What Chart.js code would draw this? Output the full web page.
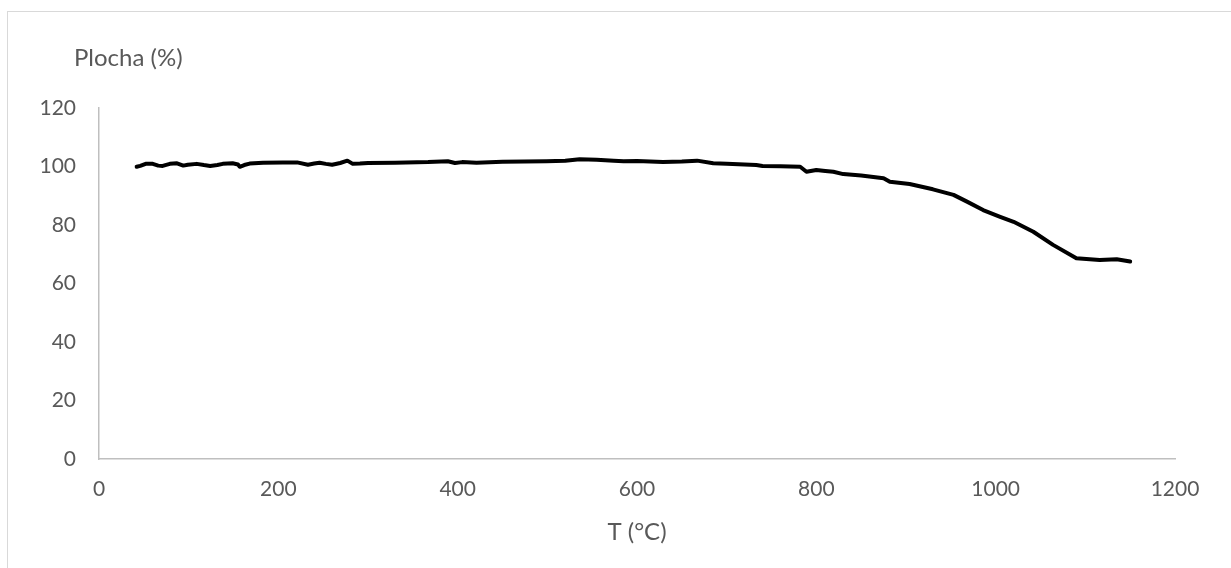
<!DOCTYPE html>
<html>
<head>
<meta charset="utf-8">
<script src="https://cdn.jsdelivr.net/npm/chart.js"></script>
<style>
  body { margin: 0; background: #fff; overflow: hidden; }
  #frame {
    position: absolute; left: 7px; top: 11px;
    width: 1400px; height: 800px;
    border: 1px solid #d9d9d9; box-sizing: border-box;
  }
  #wrap { position: absolute; left: 0; top: 0; width: 1231px; height: 568px; }
</style>
</head>
<body>
<div id="frame"></div>
<div id="wrap"><canvas id="plochaChart" width="1231" height="568"></canvas></div>
<script>
  // teplota (°C)
  const teplota = [
    42, 46, 52, 60, 66, 71, 79, 87, 94, 99, 109, 117, 124, 132, 138, 149, 155, 157, 162, 168,
    183, 205, 221, 233, 240, 246, 253, 260, 269, 277, 283, 291, 300, 330, 367, 389, 397, 405,
    421, 450, 499, 520, 536, 555, 574, 585, 600, 629, 650, 667, 685, 700, 733, 740, 760, 782,
    789, 800, 810, 819, 830, 850, 875, 882, 904, 930, 953, 968, 986, 1005, 1020, 1042, 1064,
    1090, 1116, 1135, 1145, 1150
  ];
  // plocha (%)
  const plocha = [
    99.9, 100.2, 100.9, 100.9, 100.3, 100.2, 100.9, 101.1, 100.3, 100.6, 100.9, 100.5, 100.2, 100.5, 100.9, 101.1, 100.7, 99.9, 100.5, 101.0,
    101.3, 101.4, 101.4, 100.6, 101.0, 101.3, 100.9, 100.6, 101.2, 102.0, 100.9, 101.0, 101.2, 101.3, 101.5, 101.8, 101.2, 101.5,
    101.3, 101.6, 101.8, 102.0, 102.5, 102.3, 102.0, 101.8, 101.9, 101.5, 101.7, 102.0, 101.1, 100.9, 100.5, 100.2, 100.1, 99.9,
    98.2, 98.8, 98.5, 98.2, 97.4, 96.9, 96.0, 94.8, 94.0, 92.2, 90.3, 88.0, 85.1, 82.8, 81.1, 77.7, 73.2,
    68.6, 68.0, 68.3, 67.8, 67.5
  ];
  const xTicks = [0, 200, 400, 600, 800, 1000, 1200];
  const yTicks = [0, 20, 40, 60, 80, 100, 120];

  const textColor = '#595959';
  const axisColor = '#bfbfbf';
  const fontFamily = 'Lato, "Open Sans", sans-serif';
  const tickSize = 21;
  const titleSize = 24;

  // axis titles drawn horizontally, Excel style
  const axisTitles = {
    id: 'axisTitles',
    afterDraw(chart) {
      const { ctx, chartArea } = chart;
      ctx.save();
      ctx.fillStyle = textColor;
      ctx.font = titleSize + 'px ' + fontFamily;
      ctx.textBaseline = 'middle';
      ctx.textAlign = 'left';
      ctx.fillText('Plocha (%)', 74, 58);
      ctx.textAlign = 'center';
      ctx.fillText('T (°C)', (chartArea.left + chartArea.right) / 2, 532);
      ctx.restore();
    }
  };

  new Chart(document.getElementById('plochaChart'), {
    type: 'scatter',
    data: {
      datasets: [{
        data: teplota.map((t, i) => ({ x: t, y: plocha[i] })),
        showLine: true,
        borderColor: '#000',
        borderWidth: 4,
        pointRadius: 0,
        tension: 0,
        borderJoinStyle: 'round',
        borderCapStyle: 'round'
      }]
    },
    options: {
      responsive: false,
      animation: false,
      layout: { padding: { left: 0, top: 108, right: 56, bottom: 0 } },
      plugins: { legend: { display: false }, tooltip: { enabled: false } },
      scales: {
        x: {
          type: 'linear',
          min: 0, max: 1200,
          afterBuildTicks: (s) => { s.ticks = xTicks.map(v => ({ value: v })); },
          afterFit: (s) => { s.height = 109; },
          grid: { display: false, drawTicks: false },
          border: { display: true, color: axisColor, width: 1.5 },
          ticks: {
            color: textColor, font: { size: tickSize, family: fontFamily },
            padding: 18, maxRotation: 0, callback: (v) => String(v)
          }
        },
        y: {
          min: 0, max: 120,
          afterBuildTicks: (s) => { s.ticks = yTicks.map(v => ({ value: v })); },
          afterFit: (s) => { s.width = 99; },
          grid: { display: false, drawTicks: false },
          border: { display: true, color: axisColor, width: 1.5 },
          ticks: {
            color: textColor, font: { size: tickSize, family: fontFamily },
            padding: 23, callback: (v) => String(v)
          }
        }
      }
    },
    plugins: [axisTitles]
  });
</script>
</body>
</html>
